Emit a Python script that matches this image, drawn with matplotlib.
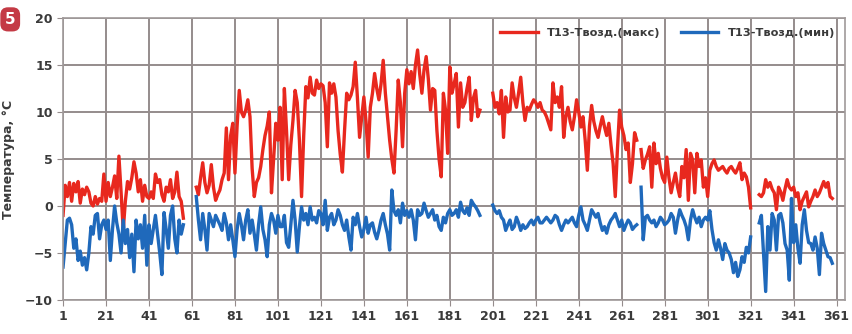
import matplotlib
matplotlib.use("Agg")
import matplotlib.pyplot as plt
import numpy as np

# start day of every continuous piece of record
seg_start = [1, 63, 201, 270, 325]

t_max = [
    # days 1-57
    [-1.0, 2.2, 1.0, 2.5, 0.5, 2.4, 1.5, 2.6, 0.3, 1.8,
     1.2, 2.0, 1.5, 0.3, 0.0, 1.0, 0.2, 0.8, 0.5, 3.4,
     0.5, 2.5, 1.0, 2.0, 3.2, 0.8, 5.3, 1.5, -2.6, 0.5,
     2.6, 1.8, 3.0, 4.7, 3.5, 1.5, 2.8, 0.5, 2.2, 1.0,
     0.8, 1.5, 0.8, 3.4, 2.5, 2.8, 1.2, 0.5, 2.0, 1.5,
     2.8, 0.8, 1.5, 3.6, 1.0, 0.5, -1.3],
    # days 63-195
    [2.0, 1.2, 3.0, 4.6, 2.5, 1.4, 2.2, 4.4, 2.0, 0.6,
     1.2, 1.7, 2.8, 3.5, 8.3, 2.8, 7.5, 8.8, 3.5, 8.5,
     12.3, 10.0, 9.5, 10.2, 11.3, 9.5, 4.0, 1.0, 2.5, 3.0,
     4.2, 6.0, 7.5, 8.5, 10.0, 1.4, 5.0, 8.8, 7.0, 10.5,
     2.8, 12.5, 8.0, 2.8, 6.5, 9.1, 12.3, 11.0, 7.0, 1.0,
     7.5, 12.7, 11.5, 13.7, 12.0, 11.8, 13.4, 12.5, 13.0, 12.8,
     11.0, 6.3, 13.1, 12.0, 13.0, 11.6, 8.0, 5.5, 3.6, 8.0,
     12.0, 11.3, 11.8, 12.7, 15.3, 11.5, 7.3, 9.5, 11.6, 9.0,
     5.2, 10.5, 12.0, 14.1, 12.5, 11.3, 13.0, 15.5, 12.0, 9.5,
     7.0, 5.0, 3.5, 8.0, 13.4, 11.0, 6.3, 12.0, 14.5, 13.0,
     14.3, 12.5, 15.0, 16.6, 14.0, 12.0, 14.5, 15.9, 13.5, 10.2,
     12.5, 12.3, 8.0, 5.0, 3.1, 12.0, 10.2, 5.6, 14.8, 12.0,
     13.0, 14.1, 8.4, 13.1, 10.5, 11.0, 12.5, 13.7, 9.1, 11.5,
     12.3, 9.5, 10.2],
    # days 201-268
    [12.0, 10.5, 11.0, 9.8, 12.3, 7.3, 11.6, 10.0, 10.2, 13.1,
     11.5, 10.5, 12.0, 13.7, 11.0, 9.1, 10.5, 10.2, 10.8, 11.3,
     11.0, 10.5, 11.0, 10.2, 10.0, 9.5, 8.8, 8.1, 13.1, 11.0,
     11.6, 10.5, 12.7, 7.3, 9.5, 10.5, 9.0, 8.1, 9.5, 11.3,
     10.0, 8.4, 9.5, 7.0, 3.8, 8.5, 10.7, 9.0, 8.0, 7.3,
     8.5, 9.5, 8.4, 7.5, 8.8, 6.5, 4.5, 1.0, 6.0, 10.2,
     8.4, 7.5, 6.0, 6.7, 2.5, 4.5, 7.8, 7.0],
    # days 270-321
    [6.0, 4.0, 4.9, 5.5, 6.3, 2.0, 6.7, 4.5, 5.6, 4.0,
     3.0, 2.5, 5.2, 3.0, 1.4, 2.5, 3.5, 2.0, 1.0, 4.2,
     3.0, 6.0, 0.6, 5.6, 4.9, 1.4, 5.6, 4.2, 4.9, 2.0,
     3.0, 1.0, 3.8, 4.5, 4.9, 4.2, 3.8, 4.0, 4.2, 3.8,
     3.5, 4.0, 4.2, 3.8, 3.5, 4.0, 4.6, 2.8, 3.5, 3.1,
     2.0, -0.2],
    # days 325-359
    [1.2, 1.0, 1.4, 2.8, 2.0, 2.5, 1.8, 1.4, -0.4, 2.0,
     1.5, 0.6, 1.8, 2.8, 2.0, 1.7, 2.0, 1.0, 1.4, -0.4,
     0.5, 1.0, 1.5, -0.1, 0.5, 1.0, 1.7, 1.0, 1.4, 2.0,
     2.6, 2.0, 2.5, 1.0, 0.8],
]

t_min = [
    # days 1-57
    [-6.5, -4.0, -1.5, -1.3, -2.0, -4.5, -3.5, -5.8, -4.8, -6.3,
     -5.5, -6.8, -5.0, -2.2, -3.0, -1.0, -0.8, -3.5, -2.0, -1.5,
     -2.5, -1.5, -5.8, -2.5, 0.0, -1.8, -3.0, -5.0, -1.5, -4.0,
     -2.5, -5.5, -3.0, -7.0, -1.5, -3.5, -2.0, -4.5, -1.0, -6.3,
     -2.0, -4.0, -2.5, -1.0, -3.0, -5.0, -7.3, -0.7, -2.5, -4.5,
     -1.0, 0.0, -3.5, -5.0, -1.5, -3.0, -2.0],
    # days 63-195
    [1.0, -1.5, -3.6, -0.8, -2.5, -4.7, -0.8, -1.5, -2.2, -1.0,
     -1.5, -2.0, -2.6, -0.8, -1.8, -3.6, -2.0, -3.6, -5.4, -2.5,
     -0.8, -2.0, -3.6, -1.5, -0.4, -2.9, -1.5, -3.0, -4.7, -2.0,
     -0.1, -2.5, -3.6, -5.4, -2.0, -0.8, -1.5, -2.9, -1.0, -2.2,
     -2.2, -1.0, -3.9, -4.4, -2.0, 0.6, -1.5, -4.9, -2.2, -0.1,
     -1.5, -0.8, -2.0, -0.1, -1.5, -1.2, -1.8, -0.5, -0.8, -2.0,
     0.6, -2.6, -1.2, -0.8, -2.0, -1.5, -0.4, -1.0, -2.0, -2.6,
     -1.5, -3.3, -4.7, -1.2, -2.0, -0.8, -2.2, -3.3, -2.5, -1.2,
     -2.9, -2.0, -1.8, -2.8, -3.5, -2.6, -1.5, -0.8, -2.0, -3.0,
     -4.7, 1.7, -0.5, -1.0, -0.4, -1.8, 0.3, -1.0, -0.5, -1.2,
     -0.4, -1.5, -3.6, -0.4, -1.0, -0.8, 0.3, -0.5, -1.2, -0.8,
     -0.4, -1.5, -1.0, -2.2, -2.6, -1.2, -1.8, -0.8, -0.4, -1.0,
     -0.8, -0.4, -1.2, 0.4, -0.5, -0.8, -0.2, -1.0, 0.6, 0.2,
     -0.1, -0.5, -1.0],
    # days 201-268
    [0.1, -0.5, -0.8, -0.5, -1.2, -1.5, -2.6, -2.0, -1.5, -2.5,
     -2.2, -1.2, -1.8, -2.6, -2.0, -2.4, -2.2, -1.8, -1.5, -2.0,
     -1.5, -1.2, -1.8, -1.8, -1.5, -1.2, -1.5, -1.8, -1.5, -1.0,
     -1.2, -2.0, -2.6, -2.0, -1.5, -1.8, -1.5, -1.2, -1.8, -2.2,
     -1.0, -0.1, -1.5, -2.0, -2.6, -1.5, -0.4, -0.8, -1.2, -0.8,
     -1.8, -2.6, -2.2, -2.9, -2.0, -1.5, -1.2, -0.8, -1.5, -2.2,
     -1.5, -2.6, -2.0, -1.5, -1.8, -2.5, -2.2, -2.0],
    # days 270-321
    [2.0, -3.6, -1.2, -1.0, -1.5, -1.8, -1.5, -2.2, -1.8, -1.2,
     -1.5, -2.0, -1.8, -1.5, -0.8, -1.2, -2.9, -1.5, -0.4, -1.0,
     -1.5, -2.2, -3.6, -1.5, -0.4, -1.2, -1.8, -1.2, -2.2, -1.5,
     -1.2, -1.5, -0.5, -2.5, -3.9, -4.7, -3.6, -4.5, -5.7, -4.0,
     -4.7, -5.0, -5.7, -7.1, -6.0, -7.5, -6.8, -5.4, -6.0, -4.4,
     -5.0, -3.3],
    # days 325-359
    [-1.8, -1.0, -5.0, -9.1, -2.2, -4.7, -0.8, -1.5, -4.7, -1.0,
     -0.8, -1.8, -4.0, -4.7, -7.9, 0.8, -3.9, -2.0, -4.5, -6.1,
     -2.0, -0.4, -2.6, -3.9, -4.0, -4.7, -3.3, -4.5, -7.3, -2.9,
     -4.0, -4.7, -5.4, -5.5, -6.1],
]

x_ticks = list(range(1, 362, 20))
y_ticks = [-10, -5, 0, 5, 10, 15, 20]


def join(start, parts):
    # glue the pieces together with a NaN between them so the line breaks
    xs, ys = [], []
    for s, vals in zip(start, parts):
        xs += list(range(s, s + len(vals))) + [s + len(vals)]
        ys += list(vals) + [np.nan]
    return np.array(xs), np.array(ys)


x_hi, y_hi = join(seg_start, t_max)
x_lo, y_lo = join(seg_start, t_min)

fig = plt.figure(figsize=(8.52, 3.34), dpi=100)
ax = fig.add_axes([0.074, 0.102, 0.918, 0.844])

ax.plot(x_hi, y_hi, color="#e8281e", lw=2.4, label="T13-Твозд.(макс)")
ax.plot(x_lo, y_lo, color="#1f69bb", lw=2.4, label="T13-Твозд.(мин)")

ax.set_xlim(1, 365)
ax.set_ylim(-10, 20)
ax.set_xticks(x_ticks)
ax.set_yticks(y_ticks)
ax.grid(True, color="#958c8c", lw=1.4)
ax.set_axisbelow(True)
for sp in ax.spines.values():
    sp.set_color("#a09a9a")
    sp.set_linewidth(1.2)
ax.tick_params(length=4, color="#958c8c", labelcolor="#3a3a3a", labelsize=9)
for lab in ax.get_xticklabels() + ax.get_yticklabels():
    lab.set_fontweight("bold")

ax.set_ylabel("Температура, °C", fontsize=9, fontweight="bold", color="#3a3a3a", labelpad=7)

leg = ax.legend(loc="upper right", ncol=2, frameon=False, fontsize=8.2,
                handlelength=3.3, columnspacing=1.8, borderaxespad=0.5)
for t in leg.get_texts():
    t.set_fontweight("bold")
    t.set_color("#3a3a3a")

# figure number badge
fig.text(0.012, 0.942, "5", color="white", fontsize=11, fontweight="bold",
         ha="center", va="center",
         bbox=dict(boxstyle="round,pad=0.3,rounding_size=0.5", fc="#c43a45", ec="none"))

fig.savefig("out.png", dpi=100)
